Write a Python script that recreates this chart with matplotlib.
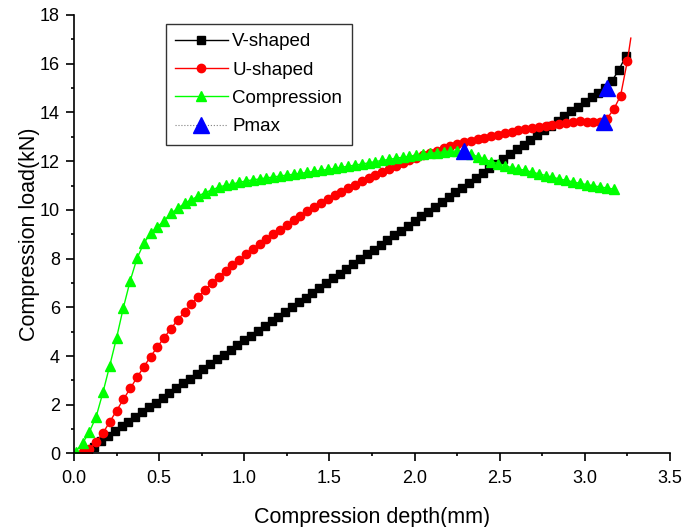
import numpy as np
import matplotlib
matplotlib.use("Agg")
import matplotlib.pyplot as plt
from matplotlib.lines import Line2D
from matplotlib.ticker import MultipleLocator

plt.rcParams['font.family'] = ['Liberation Sans', 'DejaVu Sans']

# V-shaped (black squares)
v_depth = [0.08, 0.12, 0.16, 0.20, 0.24, 0.28, 0.32, 0.36, 0.40, 0.44,
           0.48, 0.52, 0.56, 0.60, 0.64, 0.68, 0.72, 0.76, 0.80, 0.84,
           0.88, 0.92, 0.96, 1.00, 1.04, 1.08, 1.12, 1.16, 1.20, 1.24,
           1.28, 1.32, 1.36, 1.40, 1.44, 1.48, 1.52, 1.56, 1.60, 1.64,
           1.68, 1.72, 1.76, 1.80, 1.84, 1.88, 1.92, 1.96, 2.00, 2.04,
           2.08, 2.12, 2.16, 2.20, 2.24, 2.28, 2.32, 2.36, 2.40, 2.44,
           2.48, 2.52, 2.56, 2.60, 2.64, 2.68, 2.72, 2.76, 2.80, 2.84,
           2.88, 2.92, 2.96, 3.00, 3.04, 3.08, 3.12, 3.16, 3.20, 3.24]
v_load = [0.05, 0.25, 0.50, 0.72, 0.92, 1.11, 1.31, 1.50, 1.70, 1.90,
          2.09, 2.29, 2.48, 2.68, 2.88, 3.07, 3.27, 3.46, 3.66, 3.86,
          4.05, 4.25, 4.44, 4.64, 4.84, 5.03, 5.23, 5.42, 5.62, 5.82,
          6.01, 6.21, 6.40, 6.60, 6.80, 6.99, 7.19, 7.38, 7.58, 7.78,
          7.97, 8.17, 8.36, 8.56, 8.76, 8.95, 9.15, 9.34, 9.54, 9.74,
          9.93, 10.13, 10.32, 10.52, 10.72, 10.91, 11.11, 11.30, 11.50, 11.70,
          11.89, 12.09, 12.28, 12.48, 12.68, 12.87, 13.07, 13.26, 13.46, 13.66,
          13.85, 14.05, 14.24, 14.44, 14.62, 14.80, 15.00, 15.30, 15.75, 16.30]

# U-shaped (red circles)
u_depth = [0.05, 0.09, 0.13, 0.17, 0.21, 0.25, 0.29, 0.33, 0.37, 0.41,
           0.45, 0.49, 0.53, 0.57, 0.61, 0.65, 0.69, 0.73, 0.77, 0.81,
           0.85, 0.89, 0.93, 0.97, 1.01, 1.05, 1.09, 1.13, 1.17, 1.21,
           1.25, 1.29, 1.33, 1.37, 1.41, 1.45, 1.49, 1.53, 1.57, 1.61,
           1.65, 1.69, 1.73, 1.77, 1.81, 1.85, 1.89, 1.93, 1.97, 2.01,
           2.05, 2.09, 2.13, 2.17, 2.21, 2.25, 2.29, 2.33, 2.37, 2.41,
           2.45, 2.49, 2.53, 2.57, 2.61, 2.65, 2.69, 2.73, 2.77, 2.81,
           2.85, 2.89, 2.93, 2.97, 3.01, 3.05, 3.09, 3.13, 3.17, 3.21,
           3.25, 3.27]
u_load = [0.07, 0.18, 0.47, 0.84, 1.30, 1.76, 2.22, 2.67, 3.12, 3.56,
          3.98, 4.38, 4.76, 5.13, 5.49, 5.82, 6.14, 6.44, 6.72, 7.00,
          7.26, 7.50, 7.73, 7.95, 8.17, 8.38, 8.59, 8.79, 8.99, 9.18,
          9.38, 9.57, 9.76, 9.95, 10.12, 10.28, 10.44, 10.60, 10.75, 10.90,
          11.04, 11.17, 11.30, 11.43, 11.56, 11.68, 11.81, 11.93, 12.04, 12.14,
          12.24, 12.34, 12.43, 12.52, 12.61, 12.69, 12.77, 12.84, 12.91, 12.97,
          13.03, 13.09, 13.15, 13.20, 13.26, 13.31, 13.36, 13.41, 13.46, 13.50,
          13.54, 13.58, 13.61, 13.63, 13.62, 13.60, 13.62, 13.75, 14.13, 14.69,
          16.12, 17.05]

# Compression (green triangles)
c_depth = [0.01, 0.05, 0.09, 0.13, 0.17, 0.21, 0.25, 0.29, 0.33, 0.37,
           0.41, 0.45, 0.49, 0.53, 0.57, 0.61, 0.65, 0.69, 0.73, 0.77,
           0.81, 0.85, 0.89, 0.93, 0.97, 1.01, 1.05, 1.09, 1.13, 1.17,
           1.21, 1.25, 1.29, 1.33, 1.37, 1.41, 1.45, 1.49, 1.53, 1.57,
           1.61, 1.65, 1.69, 1.73, 1.77, 1.81, 1.85, 1.89, 1.93, 1.97,
           2.01, 2.05, 2.09, 2.13, 2.17, 2.21, 2.25, 2.29, 2.33, 2.37,
           2.41, 2.45, 2.49, 2.53, 2.57, 2.61, 2.65, 2.69, 2.73, 2.77,
           2.81, 2.85, 2.89, 2.93, 2.97, 3.01, 3.05, 3.09, 3.13, 3.17]
c_load = [0.08, 0.42, 0.88, 1.51, 2.51, 3.61, 4.75, 5.99, 7.09, 8.01,
          8.63, 9.04, 9.31, 9.56, 9.86, 10.07, 10.27, 10.42, 10.57, 10.71,
          10.82, 10.93, 11.01, 11.06, 11.13, 11.19, 11.23, 11.27, 11.31, 11.35,
          11.39, 11.43, 11.46, 11.50, 11.54, 11.58, 11.62, 11.66, 11.70, 11.75,
          11.79, 11.84, 11.88, 11.93, 11.98, 12.03, 12.07, 12.12, 12.16, 12.20,
          12.24, 12.28, 12.32, 12.35, 12.38, 12.40, 12.42, 12.40, 12.30, 12.18,
          12.08, 11.98, 11.90, 11.82, 11.73, 11.68, 11.62, 11.55, 11.48, 11.41,
          11.34, 11.27, 11.21, 11.15, 11.09, 11.04, 10.99, 10.94, 10.90, 10.85]

# Pmax points
pmax_depth = [2.29, 3.11, 3.13]
pmax_load = [12.40, 13.62, 15.00]

fig = plt.figure(figsize=(6.84, 5.27), dpi=100)
ax = fig.add_axes([0.1082, 0.1395, 0.8713, 0.8321])

ax.plot(v_depth, v_load, color='black', lw=1, marker='s', ms=5.2, mec='black', label='V-shaped')
ax.plot(u_depth, u_load, color='red', lw=1, marker='o', ms=6, mec='red',
        markevery=slice(0, len(u_depth) - 1), label='U-shaped')
ax.plot(c_depth, c_load, color='#00ff00', lw=1, marker='^', ms=6.5, mec='#00ff00', label='Compression')
ax.plot(pmax_depth, pmax_load, ls='none', marker='^', ms=12, color='blue', mec='blue', zorder=5)

handles = [
    Line2D([], [], color='black', lw=1, marker='s', ms=5.2),
    Line2D([], [], color='red', lw=1, marker='o', ms=6),
    Line2D([], [], color='#00ff00', lw=1, marker='^', ms=6.5),
    Line2D([], [], color='gray', lw=0.8, ls=':', marker='^', ms=12, mfc='blue', mec='blue'),
]
labels = ['V-shaped', 'U-shaped', 'Compression', 'Pmax']
leg = ax.legend(handles, labels, loc='upper left', bbox_to_anchor=(0.154, 0.98),
                borderaxespad=0, fontsize=13.5, numpoints=1, handlelength=2.8,
                handletextpad=0.25, labelspacing=0.6, borderpad=0.5,
                fancybox=False, framealpha=1)
leg.get_frame().set_edgecolor('#333333')
leg.get_frame().set_linewidth(1.0)

ax.set_xlim(0, 3.5)
ax.set_ylim(0, 18)
ax.xaxis.set_major_locator(MultipleLocator(0.5))
ax.xaxis.set_minor_locator(MultipleLocator(0.25))
ax.yaxis.set_major_locator(MultipleLocator(2))
ax.yaxis.set_minor_locator(MultipleLocator(1))
ax.xaxis.set_major_formatter(plt.FormatStrFormatter('%.1f'))

ax.spines['top'].set_visible(False)
ax.spines['right'].set_visible(False)
ax.spines['left'].set_linewidth(1.2)
ax.spines['bottom'].set_linewidth(1.2)
ax.tick_params(which='major', direction='out', length=5.5, width=1.2, labelsize=13)
ax.tick_params(which='minor', direction='out', length=2.5, width=1.2)
ax.tick_params(axis='x', which='major', pad=6.5)
ax.tick_params(axis='y', which='major', pad=4.5)

ax.set_xlabel('Compression depth(mm)', fontsize=15.5, labelpad=14)
ax.set_ylabel('Compression load(kN)', fontsize=15.5, labelpad=0)

fig.savefig('out.png', dpi=100)
